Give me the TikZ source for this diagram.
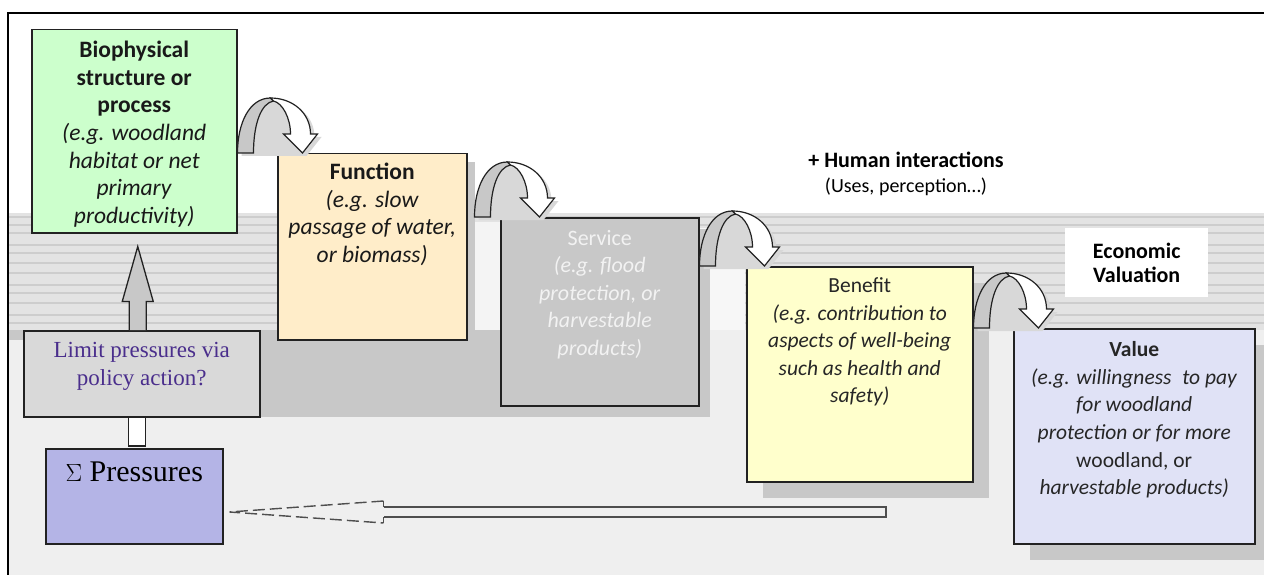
\documentclass[tikz,border=0pt]{standalone}
\usepackage{fontspec}
\setmainfont{Carlito}
\newfontfamily\serifont{Liberation Serif}
\usetikzlibrary{calc,shadows}
\definecolor{bioG}{HTML}{CCFFCC}
\definecolor{funcY}{HTML}{FFEDC9}
\definecolor{servG}{HTML}{C8C8C8}
\definecolor{benY}{HTML}{FFFFCC}
\definecolor{valL}{HTML}{E0E2F6}
\definecolor{pressP}{HTML}{B4B4E6}
\definecolor{limG}{HTML}{D9D9D9}
\definecolor{shad}{HTML}{C8C8C8}
\definecolor{bgL}{HTML}{EFEFEF}
\definecolor{bgM}{HTML}{E3E3E3}
\definecolor{stripe}{HTML}{CDCDCD}
\definecolor{edge}{HTML}{222222}
\definecolor{limtxt}{HTML}{4A2E8C}
\definecolor{servtxt}{HTML}{F2F2F2}
\newcommand{\cascarrow}[1]{%
  \begin{scope}[shift={(#1)}]
    \fill[shad!70] (4,3) .. controls (4,-27) and (16,-52) .. (37,-52)
      .. controls (59,-52) and (77,-37) .. (77,-16) -- (84,-16) -- (69,3) -- cycle;
    \filldraw[fill=servG, draw=edge, line width=1.2] (0,0) .. controls (0,-30) and (12,-55) .. (33,-55)
      -- (36,-52) .. controls (24,-50) and (16,-30) .. (16,0) -- cycle;
    \filldraw[fill=white, draw=edge, line width=1.2] (33,-55) .. controls (55,-55) and (73,-40) .. (73,-19)
      -- (80,-19) -- (65,0) -- (46,-19) -- (53,-19)
      .. controls (53,-35) and (45,-50) .. (36,-52) -- cycle;
  \end{scope}}
\tikzset{
  box/.style={draw=edge, line width=1.5, inner sep=0pt, anchor=north west},
  shadowed/.style={drop shadow={shadow xshift=#1pt, shadow yshift=-#1pt, fill=shad, opacity=1}},
  btext/.style={anchor=north, align=center, inner sep=0pt, font=\fontsize{23.5}{27.6}\selectfont, text=black!90},
  ctext/.style={anchor=north, align=center, inner sep=0pt, font=\fontsize{21.5}{27.6}\selectfont, text=black!85},
}
\begin{document}
\begin{tikzpicture}[x=1pt,y=-1pt]
\useasboundingbox (0,0) rectangle (1264,575);
\fill[white] (0,0) rectangle (1264,575);
% page background bands
\fill[bgL] (8,213) rectangle (1264,575);
\fill[bgM] (8,213) rectangle (1264,330);
\foreach \yy in {216,224,232,244,252,262,272,284,292,302,314,322}
  \fill[stripe] (8,\yy) rectangle (1264,\yy+2);
\fill[white!70!bgM] (700,228) rectangle (745,330);
\fill[white!60!bgM] (466,222) rectangle (500,330);
\fill[shad] (8,330) rectangle (705,417);
\fill[bgL] (8,340) rectangle (23,575);
% frame
\draw[line width=2.5] (8,575) -- (8,13) -- (1264,13);
% boxes
\node[box, fill=bioG, minimum width=205, minimum height=203] (bio) at (31,29) {};
\node[box, fill=funcY, minimum width=189, minimum height=186, shadowed=8] (func) at (277,153) {};
\node[box, fill=servG, minimum width=198, minimum height=188, shadowed=11] (serv) at (500,217) {};
\node[box, fill=benY, minimum width=226, minimum height=215, shadowed=16] (ben) at (746,266) {};
\node[box, fill=valL, minimum width=241, minimum height=215, shadowed=16] (val) at (1013,328) {};
\node[box, fill=limG, minimum width=236, minimum height=86] (limit) at (23,330) {};
\node[box, fill=pressP, minimum width=177, minimum height=95] (press) at (45,448) {};
\node[anchor=north west, fill=white, minimum width=143, minimum height=69, inner sep=0pt] (ev) at (1065,228) {};
% box texts
\node[btext] (bio-t) at ($(bio.north)+(0,12)$)
  {\textbf{Biophysical}\\\textbf{structure or}\\\textbf{process}\\\textit{(e.g. woodland}\\\textit{habitat or net}\\\textit{primary}\\\textit{productivity)}};
\node[btext] (func-t) at ($(func.north)+(0,10)$)
  {\textbf{Function}\\\textit{(e.g. slow}\\\textit{passage of water,}\\\textit{or biomass)}};
\node[btext, font=\fontsize{22}{27.5}\selectfont, text=servtxt] (serv-t) at ($(serv.north)+(0,13)$)
  {Service\\\textit{(e.g. flood}\\\textit{protection, or}\\\textit{harvestable}\\\textit{products)}};
\node[ctext] (ben-t) at ($(ben.north)+(0,11.5)$)
  {Benefit\\\textit{(e.g. contribution to}\\\textit{aspects of well-being}\\\textit{such as health and}\\\textit{safety)}};
\node[ctext] (val-t) at ($(val.north)+(0,13.5)$)
  {\textbf{Value}\\\textit{(e.g. willingness\enspace to pay}\\\textit{for woodland}\\\textit{protection or for more}\\woodland, or\\\textit{harvestable products)}};
\node[anchor=north, align=center, inner sep=0pt, font=\serifont\fontsize{23}{28}\selectfont, text=limtxt] (limit-t) at ($(limit.north)+(0,12)$)
  {Limit pressures via\\policy action?};
\node[anchor=north, inner sep=0pt, font=\serifont\fontsize{30}{34}\selectfont, text=black] (press-t) at ($(press.north)+(0,14)$)
  {$\Sigma$ Pressures};
\node[align=center, inner sep=0pt, font=\bfseries\fontsize{22}{24.5}\selectfont] (ev-t) at (ev.center)
  {Economic\\Valuation};
\node[inner sep=0pt, font=\bfseries\fontsize{22}{26}\selectfont] (hum) at (906,160) {+ Human interactions};
\node[inner sep=0pt, font=\fontsize{20}{24}\selectfont] (uses) at (906,187) {(Uses, perception\ldots)};
% curved cascade arrows
\cascarrow{bio.east|-func.north}
\cascarrow{$(func.east|-serv.north)+(7,0)$}
\cascarrow{ben.north-|serv.east}
\cascarrow{val.north-|ben.east}
% block arrow: limit -> bio
\coordinate (ubase) at ($(limit.north)+(-4,0)$);
\coordinate (utip) at ($(ubase|-bio.south)+(0,13)$);
\filldraw[fill=servG, draw=edge, line width=1.3]
  ($(ubase)+(-8.5,0)$) -- ($(utip)+(-8.5,55)$) -- ($(utip)+(-15.5,55)$) -- (utip)
  -- ($(utip)+(15.5,55)$) -- ($(utip)+(8.5,55)$) -- ($(ubase)+(8.5,0)$);
% connector press -> limit
\filldraw[fill=white, draw=edge, line width=1.3]
  ($(press.north)+(-5.5,-2)$) rectangle ($(press.north|-limit.south)+(11.5,0)$);
% big return arrow (value side) -> pressures
\coordinate (psrc) at (886,512);
\coordinate (ptip) at ($(press.east|-psrc)+(6,0)$);
\draw[edge!80, line width=1.4] ($(ptip)+(154,-5)$) -- ($(psrc)+(0,-5)$) -- ($(psrc)+(0,5)$) -- ($(ptip)+(154,5)$);
\draw[edge!80, line width=1.4] ($(ptip)+(154,-5)$) -- ($(ptip)+(154,-11)$);
\draw[edge!80, line width=1.4] ($(ptip)+(154,5)$) -- ($(ptip)+(154,11)$);
\draw[edge!80, line width=1.4, dash pattern=on 12pt off 5pt] ($(ptip)+(154,-11)$) -- (ptip) -- ($(ptip)+(154,11)$);
\end{tikzpicture}
\end{document}
